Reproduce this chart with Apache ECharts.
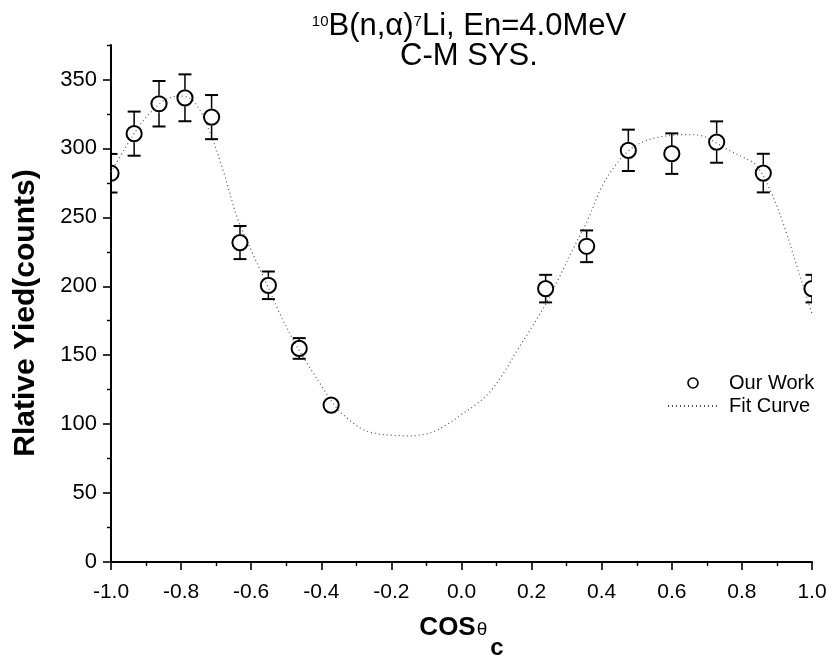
<!DOCTYPE html>
<html><head><meta charset="utf-8">
<script src="https://cdn.jsdelivr.net/npm/echarts@6/dist/echarts.min.js"></script>
<style>html,body{margin:0;padding:0;background:#fff}#c{width:833px;height:657px}</style>
</head><body><div id="c"></div>
<script>
// Measured points: cos(theta_c), relative yield, error
const cosTheta = [-1.0, -0.934, -0.863, -0.789, -0.713, -0.632, -0.551, -0.463, -0.372, 0.240, 0.357, 0.476, 0.600, 0.728, 0.861, 1.0];
const yieldVals = [282, 310.7, 332.4, 336.7, 322.7, 231.7, 200.7, 154.9, 113.8, 198.3, 229, 298.6, 296.2, 304.6, 282.1, 198.3];
const yieldErr = [14, 16, 16.5, 17, 16, 12, 10, 7.5, 4, 10, 11.5, 15, 14.7, 15, 14, 10];

// Fit curve
const fitX = [-1.00, -0.96, -0.92, -0.88, -0.84, -0.80, -0.76, -0.72, -0.68, -0.64, -0.60, -0.56, -0.52, -0.48, -0.44, -0.40, -0.36, -0.32, -0.28, -0.24, -0.20, -0.16, -0.12, -0.08, -0.04, 0.00, 0.04, 0.08, 0.12, 0.16, 0.20, 0.24, 0.28, 0.32, 0.36, 0.40, 0.44, 0.48, 0.52, 0.56, 0.60, 0.64, 0.68, 0.72, 0.76, 0.80, 0.84, 0.88, 0.92, 0.96, 1.00];
const fitY = [283, 300, 316, 328, 336, 338, 333, 313, 284, 250, 226, 204, 181, 161, 144, 128, 113, 103, 96, 93, 92, 91.5, 92, 94.5, 100, 107, 114, 123, 137, 154, 170, 187, 207, 228, 248, 272, 288, 299, 305, 308, 309.5, 310, 309.5, 305, 299, 294, 288, 270, 244, 212, 180];

const yMajor = [0, 50, 100, 150, 200, 250, 300, 350];
const yMinor = [25, 75, 125, 175, 225, 275, 325, 375];

const FONT = 'Liberation Sans';
const chart = echarts.init(document.getElementById('c'), null, {renderer: 'canvas'});

const option = {
  backgroundColor: '#fff',
  animation: false,
  textStyle: {fontFamily: FONT, color: '#000'},
  title: {
    text: '{sup|10}B(n,α){sup|7}Li, En=4.0MeV\nC-M SYS.',
    left: 464,
    textAlign: 'center',
    top: 6,
    padding: 5,
    textStyle: {
      fontFamily: FONT, fontSize: 31, lineHeight: 30, fontWeight: 'normal', color: '#000',
      rich: {sup: {fontFamily: FONT, fontSize: 15, lineHeight: 15, verticalAlign: 'top', padding: [3, 0, 0, 0], color: '#000'}}
    }
  },
  legend: {
    orient: 'vertical', left: 667, top: 373, padding: 0,
    itemWidth: 50, itemHeight: 10, itemGap: 3, selectedMode: false,
    textStyle: {fontFamily: FONT, fontSize: 20, color: '#000', padding: [0, 0, 0, 6]},
    data: [
      {name: 'Our Work', icon: 'circle', itemStyle: {color: 'rgba(0,0,0,0)', borderColor: '#000', borderWidth: 1.6}},
      {name: 'Fit Curve', itemStyle: {color: 'rgba(0,0,0,0)', borderColor: 'rgba(0,0,0,0)', borderWidth: 0}}
    ]
  },
  grid: {left: 111, right: 21, top: 45, bottom: 95, containLabel: false, outerBoundsMode: 'none'},
  xAxis: {
    type: 'value', min: -1, max: 1, interval: 0.2,
    name: '{a|COS}{b|θ}{c|c}', nameLocation: 'middle', nameGap: 53,
    nameTextStyle: {
      rich: {
        a: {fontFamily: FONT, fontSize: 26, fontWeight: 'bold', lineHeight: 30, verticalAlign: 'top', color: '#000'},
        b: {fontFamily: FONT, fontSize: 19, lineHeight: 19, verticalAlign: 'top', padding: [5, 0, 0, 1], color: '#000'},
        c: {fontFamily: FONT, fontSize: 24, fontWeight: 'bold', lineHeight: 24, verticalAlign: 'top', padding: [21, 0, 0, 3], color: '#000'}
      }
    },
    axisLine: {show: true, onZero: false, lineStyle: {color: '#000', width: 2}},
    axisTick: {show: true, length: 8, lineStyle: {color: '#000', width: 1.6}},
    minorTick: {show: true, splitNumber: 2, length: 4, lineStyle: {color: '#000', width: 1.4}},
    splitLine: {show: false},
    axisLabel: {fontFamily: FONT, fontSize: 21, color: '#000', margin: 20, formatter: v => v.toFixed(1)}
  },
  yAxis: [{
    type: 'value', min: 0, max: 375,
    name: 'Rlative Yied(counts)', nameLocation: 'middle', nameGap: 70,
    nameTextStyle: {fontFamily: FONT, fontSize: 30, fontWeight: 'bold', color: '#000', padding: [0, 19, 0, 0]},
    axisLine: {show: true, onZero: false, lineStyle: {color: '#000', width: 2}},
    axisTick: {show: true, length: 8, customValues: yMajor, lineStyle: {color: '#000', width: 1.6}},
    splitLine: {show: false},
    axisLabel: {fontFamily: FONT, fontSize: 22, color: '#000', margin: 14, customValues: yMajor}
  }, {
    type: 'value', min: 0, max: 375, position: 'left',
    axisLine: {show: false, onZero: false},
    axisLabel: {show: false},
    splitLine: {show: false},
    axisTick: {show: true, length: 4, customValues: yMinor, lineStyle: {color: '#000', width: 1.4}}
  }],
  series: [{
    name: 'Fit Curve', type: 'line', symbol: 'none', smooth: 0.35, silent: true, z: 1,
    lineStyle: {color: '#555', width: 1.2, type: [1, 3]},
    itemStyle: {color: '#555'},
    data: fitX.map((x, i) => [x, fitY[i]])
  }, {
    name: 'Our Work', type: 'custom', clip: true, z: 2, silent: true,
    encode: {x: 0, y: 1},
    itemStyle: {color: '#000'},
    data: cosTheta.map((x, i) => [x, yieldVals[i], yieldErr[i]]),
    renderItem: function (params, api) {
      const x = api.value(0), y = api.value(1), e = api.value(2);
      const c = api.coord([x, y]);
      const top = api.coord([x, y + e])[1];
      const bot = api.coord([x, y - e])[1];
      const cs = params.coordSys;
      const r = 8.5, cap = 6.5;
      const ls = {stroke: '#000', lineWidth: 1.5};
      const children = [];
      if (c[1] - top > r) {
        children.push({type: 'line', shape: {x1: c[0], y1: c[1] - r, x2: c[0], y2: top}, style: ls});
        children.push({type: 'line', shape: {x1: c[0] - cap, y1: top, x2: c[0] + cap, y2: top}, style: {stroke: '#000', lineWidth: 2}});
      }
      if (bot - c[1] > r) {
        children.push({type: 'line', shape: {x1: c[0], y1: c[1] + r, x2: c[0], y2: bot}, style: ls});
        children.push({type: 'line', shape: {x1: c[0] - cap, y1: bot, x2: c[0] + cap, y2: bot}, style: {stroke: '#000', lineWidth: 2}});
      }
      children.push({type: 'circle', shape: {cx: c[0], cy: c[1], r: 7.6}, style: {fill: 'none', stroke: '#000', lineWidth: 2}});
      return {
        type: 'group', children: children,
        clipPath: {type: 'rect', shape: {x: cs.x, y: cs.y - 30, width: cs.width, height: cs.height + 60}}
      };
    }
  }]
};
chart.setOption(option);
</script>
</body></html>
